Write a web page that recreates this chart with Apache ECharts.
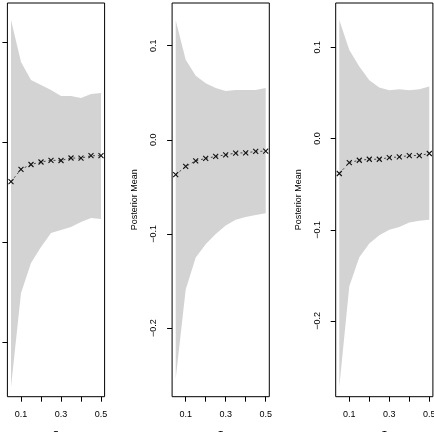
<!DOCTYPE html>
<html>
<head>
<meta charset="utf-8">
<script src="https://cdn.jsdelivr.net/npm/echarts@6/dist/echarts.min.js"></script>
<style>
  html, body { margin: 0; padding: 0; background: #fff; }
  #chart { width: 434px; height: 432px; }
</style>
</head>
<body>
<div id="chart"></div>
<script>
// x positions shared by all three panels
const xVals = [0.05, 0.10, 0.15, 0.20, 0.25, 0.30, 0.35, 0.40, 0.45, 0.50];
const xTicks = [0.1, 0.2, 0.3, 0.4, 0.5];
const xLabels = [0.1, 0.3, 0.5];
const yTicks = [-0.2, -0.1, 0.0, 0.1];

// panel 1
const mean1 = [-0.0397, -0.0273, -0.0225, -0.0200, -0.0183, -0.0185, -0.0160, -0.0162, -0.0137, -0.0137];
const upper1 = [0.122, 0.080, 0.062, 0.057, 0.052, 0.046, 0.046, 0.044, 0.048, 0.049];
const lower1 = [-0.245, -0.151, -0.121, -0.105, -0.091, -0.088, -0.085, -0.080, -0.076, -0.077];

// panel 2
const mean2 = [-0.0371, -0.0283, -0.0223, -0.0198, -0.0177, -0.0159, -0.0141, -0.0138, -0.0124, -0.0120];
const upper2 = [0.127, 0.085, 0.068, 0.060, 0.055, 0.052, 0.053, 0.053, 0.053, 0.055];
const lower2 = [-0.254, -0.159, -0.125, -0.111, -0.100, -0.091, -0.085, -0.082, -0.080, -0.078];

// panel 3
const mean3 = [-0.0383, -0.0263, -0.0238, -0.0227, -0.0227, -0.0208, -0.0202, -0.0186, -0.0186, -0.0164];
const upper3 = [0.130, 0.097, 0.079, 0.064, 0.056, 0.053, 0.054, 0.053, 0.054, 0.057];
const lower3 = [-0.272, -0.162, -0.130, -0.115, -0.106, -0.100, -0.097, -0.092, -0.090, -0.089];

const panels = [
  { left: 7.4, yMin: -0.2547, yMax: 0.139, mean: mean1, upper: upper1, lower: lower1 },
  { left: 172.1, yMin: -0.273, yMax: 0.1454, mean: mean2, upper: upper2, lower: lower2 },
  { left: 335.7, yMin: -0.283, yMax: 0.1486, mean: mean3, upper: upper3, lower: lower3 }
];

const font = "'Liberation Sans', Arial, sans-serif";
const fmt = v => (v < -1e-9 ? '\u2212' : '') + Math.abs(v).toFixed(1);

// grey band drawn as one polygon: upper edge left to right, lower edge back
function bandRenderer(p) {
  return function (params, api) {
    if (params.dataIndex !== 0) return;
    const pts = [];
    xVals.forEach((x, k) => pts.push(api.coord([x, p.upper[k]])));
    for (let k = xVals.length - 1; k >= 0; k--) pts.push(api.coord([xVals[k], p.lower[k]]));
    return { type: 'polygon', shape: { points: pts }, style: { fill: '#d3d3d3' }, silent: true };
  };
}

const grid = [], xAxis = [], yAxis = [], series = [];
panels.forEach((p, i) => {
  grid.push({
    left: p.left, top: 3, width: 97.2, height: 393.7,
    containLabel: false, outerBoundsMode: 'none',
    show: true, borderColor: '#000', borderWidth: 1, backgroundColor: 'transparent'
  });
  xAxis.push({
    type: 'value', gridIndex: i, min: 0.032, max: 0.518, position: 'bottom',
    name: '\u03c4', nameLocation: 'middle', nameGap: 32,
    nameTextStyle: { fontFamily: font, fontSize: 11, color: '#000' },
    axisLine: { show: false, onZero: false },
    splitLine: { show: false },
    axisTick: { show: true, length: 5, customValues: xTicks, lineStyle: { color: '#000' } },
    axisLabel: { customValues: xLabels, margin: 13, fontFamily: font, fontSize: 9, color: '#000',
      formatter: v => v.toFixed(1) }
  });
  yAxis.push({
    type: 'value', gridIndex: i, min: p.yMin, max: p.yMax, position: 'left',
    name: 'Posterior Mean', nameLocation: 'middle', nameGap: 33,
    nameTextStyle: { fontFamily: font, fontSize: 9, color: '#000' },
    axisLine: { show: false, onZero: false },
    splitLine: { show: false },
    axisTick: { show: true, length: 5, customValues: yTicks, lineStyle: { color: '#000' } },
    axisLabel: { customValues: yTicks, rotate: 90, margin: 14, fontFamily: font, fontSize: 9,
      color: '#000', formatter: fmt }
  });
  series.push({
    type: 'custom', xAxisIndex: i, yAxisIndex: i,
    data: xVals.map((x, k) => [x, p.lower[k], p.upper[k]]),
    encode: { x: 0, y: [1, 2] },
    renderItem: bandRenderer(p), silent: true, z: 1
  });
  series.push({
    type: 'line', xAxisIndex: i, yAxisIndex: i,
    data: xVals.map((x, k) => [x, p.mean[k]]),
    symbol: 'path://M0,0L10,10M10,0L0,10', symbolSize: 5,
    itemStyle: { color: 'transparent', borderColor: '#111', borderWidth: 1.1 },
    lineStyle: { color: '#222', width: 0.8, type: [2, 3] },
    silent: true, z: 3
  });
});

const chart = echarts.init(document.getElementById('chart'), null, { renderer: 'canvas' });
chart.setOption({
  animation: false,
  backgroundColor: '#fff',
  grid: grid,
  xAxis: xAxis,
  yAxis: yAxis,
  series: series
});
</script>
</body>
</html>
